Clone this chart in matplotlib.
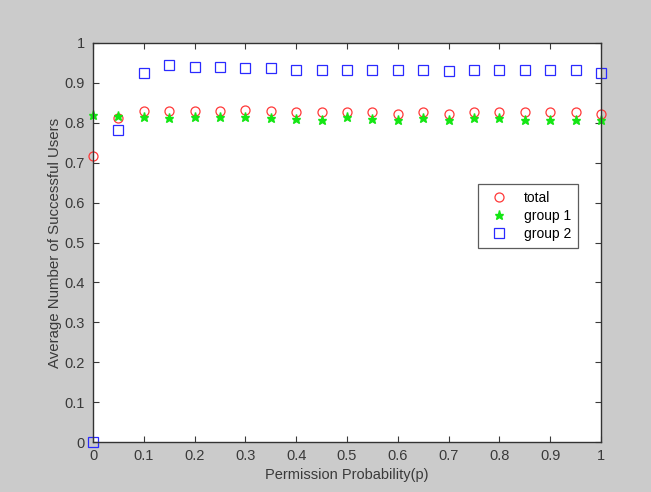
import matplotlib
matplotlib.use("Agg")
import matplotlib.pyplot as plt
import numpy as np

p = [0, 0.05, 0.1, 0.15, 0.2, 0.25, 0.3, 0.35, 0.4, 0.45, 0.5,
     0.55, 0.6, 0.65, 0.7, 0.75, 0.8, 0.85, 0.9, 0.95, 1.0]
total = [0.717, 0.811, 0.830, 0.830, 0.829, 0.830, 0.832, 0.829, 0.827, 0.826, 0.828,
         0.826, 0.823, 0.826, 0.823, 0.828, 0.828, 0.826, 0.826, 0.826, 0.823]
group1 = [0.820, 0.818, 0.814, 0.811, 0.814, 0.814, 0.815, 0.813, 0.810, 0.808, 0.814,
          0.810, 0.808, 0.812, 0.808, 0.813, 0.813, 0.808, 0.808, 0.808, 0.808]
group2 = [0.0, 0.782, 0.924, 0.945, 0.941, 0.941, 0.937, 0.937, 0.932, 0.933, 0.933,
          0.932, 0.933, 0.933, 0.930, 0.932, 0.932, 0.932, 0.932, 0.932, 0.926]
ticks = [0, 0.1, 0.2, 0.3, 0.4, 0.5, 0.6, 0.7, 0.8, 0.9, 1]
tick_labels = ["0", "0.1", "0.2", "0.3", "0.4", "0.5", "0.6", "0.7", "0.8", "0.9", "1"]

plt.rcParams['font.family'] = ['Liberation Sans', 'DejaVu Sans']

fig = plt.figure(figsize=(6.51, 4.92), dpi=100, facecolor='#cbcbcb')
ax = fig.add_axes([93/651, 50/492, 508/651, 399/492])
ax.set_facecolor('white')

ax.plot(p, total, linestyle='none', marker='o', markersize=6.5, markerfacecolor='none',
        markeredgecolor='#ff3838', markeredgewidth=0.9, label='total', clip_on=False)
ax.plot(p, group1, linestyle='none', marker='*', markersize=6.5, color='#14e614',
        label='group 1', clip_on=False)
ax.plot(p, group2, linestyle='none', marker='s', markersize=7, markerfacecolor='none',
        markeredgecolor='#2a2aff', markeredgewidth=0.9, label='group 2', clip_on=False)

ax.set_xlim(0, 1)
ax.set_ylim(0, 1)
ax.set_xticks(ticks)
ax.set_xticklabels(tick_labels)
ax.set_yticks(ticks)
ax.set_yticklabels(tick_labels)
ax.tick_params(direction='in', top=True, right=True, length=4, width=0.8,
               labelsize=10.5, colors='#3a3a3a', pad=5)
ax.tick_params(axis='y', pad=6)
for s in ax.spines.values():
    s.set_color('#333333')
    s.set_linewidth(1.0)

ax.set_xlabel('Permission Probability(p)', fontsize=10.5, color='#3a3a3a', labelpad=4)
ax.set_ylabel('Average Number of Successful Users', fontsize=10.8, color='#3a3a3a', labelpad=2)

leg = ax.legend(loc='upper left', bbox_to_anchor=((478-93)/508, (442-184)/399),
                borderaxespad=0,
                fontsize=10, frameon=True, fancybox=False, edgecolor='#333333',
                borderpad=0.5, labelspacing=0.3, handlelength=2.0, handletextpad=0.8)
leg.get_frame().set_linewidth(0.9)

fig.savefig('out.png', dpi=100, facecolor=fig.get_facecolor())
